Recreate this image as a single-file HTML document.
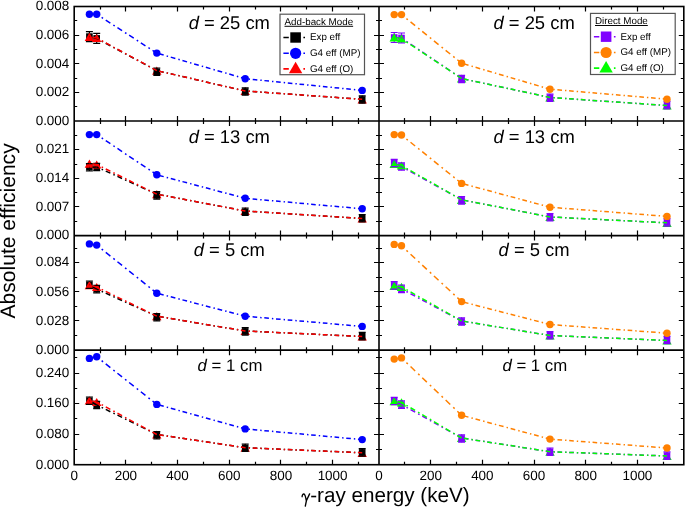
<!DOCTYPE html>
<html><head><meta charset="utf-8"><style>
html,body{margin:0;padding:0;background:#fff;}
body{width:685px;height:507px;overflow:hidden;}
#w{will-change:transform;opacity:0.999;width:685px;height:507px;}
svg{display:block;}
</style></head><body>
<div id="w">
<svg width="685" height="507" viewBox="0 0 685 507" text-rendering="geometricPrecision">
<rect width="685" height="507" fill="#fff"/>
<rect x="86.1" y="33.3" width="6.6" height="6.6" fill="#000000"/>
<path d="M89.4 31.6v10" stroke="#000000" stroke-width="1.2"/>
<path d="M89.4 32.8L94.1 41H84.7Z" fill="#ff0000"/>
<path d="M85.9 31.6h7M85.9 41.6h7" stroke="#000000" stroke-width="1.2" fill="none"/>
<rect x="93.4" y="35.1" width="6.6" height="6.6" fill="#000000"/>
<path d="M96.7 33.4v10" stroke="#000000" stroke-width="1.2"/>
<path d="M96.7 33.9L101.4 42.1H92Z" fill="#ff0000"/>
<path d="M93.2 33.4h7M93.2 43.4h7" stroke="#000000" stroke-width="1.2" fill="none"/>
<path d="M156.8 66.5L161.5 74.7H152.1Z" fill="#ff0000"/>
<rect x="153.5" y="68.4" width="6.6" height="6.6" fill="#000000"/>
<path d="M156.8 68v7.4" stroke="#000000" stroke-width="1.2"/>
<path d="M153.3 68h7M153.3 75.4h7" stroke="#000000" stroke-width="1.2" fill="none"/>
<path d="M245.2 86.9L249.9 95.1H240.5Z" fill="#ff0000"/>
<rect x="241.9" y="88.2" width="6.6" height="6.6" fill="#000000"/>
<path d="M245.2 87.8v7.4" stroke="#000000" stroke-width="1.2"/>
<path d="M241.7 87.8h7M241.7 95.2h7" stroke="#000000" stroke-width="1.2" fill="none"/>
<path d="M362.2 95.2L366.9 103.4H357.5Z" fill="#ff0000"/>
<rect x="358.9" y="96.2" width="6.6" height="6.6" fill="#000000"/>
<path d="M362.2 95.8v7.4" stroke="#000000" stroke-width="1.2"/>
<path d="M358.7 95.8h7M358.7 103.2h7" stroke="#000000" stroke-width="1.2" fill="none"/>
<circle cx="89.4" cy="14.3" r="3.7" fill="#0000ff"/>
<circle cx="96.7" cy="14.3" r="3.7" fill="#0000ff"/>
<circle cx="156.8" cy="53.1" r="3.7" fill="#0000ff"/>
<circle cx="245.2" cy="78.7" r="3.7" fill="#0000ff"/>
<circle cx="362.2" cy="90.4" r="3.7" fill="#0000ff"/>
<path d="M96.7 38.4L89.4 36.6" fill="none" stroke="#000000" stroke-width="1.5" stroke-dasharray="4.74 2.78 1.44 3.09" stroke-dashoffset="0.36"/>
<path d="M156.8 70.6L96.7 38.4" fill="none" stroke="#000000" stroke-width="1.5" stroke-dasharray="5.22 3.06 1.59 3.4" stroke-dashoffset="0.4"/>
<path d="M245.2 91L156.8 70.6" fill="none" stroke="#000000" stroke-width="1.5" stroke-dasharray="4.72 2.77 1.44 3.08" stroke-dashoffset="0.36"/>
<path d="M362.2 99.3L245.2 91" fill="none" stroke="#000000" stroke-width="1.5" stroke-dasharray="4.61 2.71 1.4 3.01" stroke-dashoffset="0.35"/>
<path d="M96.7 14.3L89.4 14.3" fill="none" stroke="#0000ff" stroke-width="1.5" stroke-dasharray="4.6 2.7 1.4 3" stroke-dashoffset="0.35"/>
<path d="M156.8 53.1L96.7 14.3" fill="none" stroke="#0000ff" stroke-width="1.5" stroke-dasharray="5.48 3.21 1.67 3.57" stroke-dashoffset="0.42"/>
<path d="M245.2 78.7L156.8 53.1" fill="none" stroke="#0000ff" stroke-width="1.5" stroke-dasharray="4.79 2.81 1.46 3.12" stroke-dashoffset="0.36"/>
<path d="M362.2 90.4L245.2 78.7" fill="none" stroke="#0000ff" stroke-width="1.5" stroke-dasharray="4.62 2.71 1.41 3.01" stroke-dashoffset="0.35"/>
<path d="M96.7 38L89.4 36.9" fill="none" stroke="#ff0000" stroke-width="1.5" stroke-dasharray="4.65 2.73 1.42 3.03" stroke-dashoffset="0.35"/>
<path d="M156.8 70.6L96.7 38" fill="none" stroke="#ff0000" stroke-width="1.5" stroke-dasharray="5.23 3.07 1.59 3.41" stroke-dashoffset="0.4"/>
<path d="M245.2 91L156.8 70.6" fill="none" stroke="#ff0000" stroke-width="1.5" stroke-dasharray="4.72 2.77 1.44 3.08" stroke-dashoffset="0.36"/>
<path d="M362.2 99.3L245.2 91" fill="none" stroke="#ff0000" stroke-width="1.5" stroke-dasharray="4.61 2.71 1.4 3.01" stroke-dashoffset="0.35"/>
<rect x="390.9" y="34.2" width="6.6" height="6.6" fill="#8000ff"/>
<path d="M394.2 32.5v10" stroke="#8000ff" stroke-width="1.2"/>
<path d="M394.2 33.2L398.9 41.4H389.5Z" fill="#00ff00"/>
<path d="M390.7 32.5h7M390.7 42.5h7" stroke="#8000ff" stroke-width="1.2" fill="none"/>
<rect x="398.2" y="34.7" width="6.6" height="6.6" fill="#8000ff"/>
<path d="M401.5 33v10" stroke="#8000ff" stroke-width="1.2"/>
<path d="M401.5 34.5L406.2 42.7H396.8Z" fill="#00ff00"/>
<path d="M398 33h7M398 43h7" stroke="#8000ff" stroke-width="1.2" fill="none"/>
<path d="M461.6 74.4L466.3 82.6H456.9Z" fill="#00ff00"/>
<rect x="458.3" y="75.7" width="6.6" height="6.6" fill="#8000ff"/>
<path d="M461.6 75.3v7.4" stroke="#8000ff" stroke-width="1.2"/>
<path d="M458.1 75.3h7M458.1 82.7h7" stroke="#8000ff" stroke-width="1.2" fill="none"/>
<path d="M550 93.4L554.7 101.6H545.3Z" fill="#00ff00"/>
<rect x="546.7" y="94.5" width="6.6" height="6.6" fill="#8000ff"/>
<path d="M550 94.1v7.4" stroke="#8000ff" stroke-width="1.2"/>
<path d="M546.5 94.1h7M546.5 101.5h7" stroke="#8000ff" stroke-width="1.2" fill="none"/>
<path d="M667 101.4L671.7 109.6H662.3Z" fill="#00ff00"/>
<rect x="663.7" y="101.8" width="6.6" height="6.6" fill="#8000ff"/>
<path d="M667 101.4v7.4" stroke="#8000ff" stroke-width="1.2"/>
<path d="M663.5 101.4h7M663.5 108.8h7" stroke="#8000ff" stroke-width="1.2" fill="none"/>
<circle cx="394.2" cy="14.6" r="3.7" fill="#ff8000"/>
<circle cx="401.5" cy="14.6" r="3.7" fill="#ff8000"/>
<circle cx="461.6" cy="63.2" r="3.7" fill="#ff8000"/>
<circle cx="550" cy="89.2" r="3.7" fill="#ff8000"/>
<circle cx="667" cy="99.2" r="3.7" fill="#ff8000"/>
<path d="M401.5 38L394.2 37.5" fill="none" stroke="#8000ff" stroke-width="1.5" stroke-dasharray="4.61 2.71 1.4 3.01" stroke-dashoffset="0.35"/>
<path d="M461.6 78.5L401.5 38" fill="none" stroke="#8000ff" stroke-width="1.5" stroke-dasharray="5.55 3.26 1.69 3.62" stroke-dashoffset="0.42"/>
<path d="M550 97.5L461.6 78.5" fill="none" stroke="#8000ff" stroke-width="1.5" stroke-dasharray="4.71 2.76 1.43 3.07" stroke-dashoffset="0.36"/>
<path d="M667 105.5L550 97.5" fill="none" stroke="#8000ff" stroke-width="1.5" stroke-dasharray="4.61 2.71 1.4 3.01" stroke-dashoffset="0.35"/>
<path d="M401.5 14.6L394.2 14.6" fill="none" stroke="#ff8000" stroke-width="1.5" stroke-dasharray="4.6 2.7 1.4 3" stroke-dashoffset="0.35"/>
<path d="M461.6 63.2L401.5 14.6" fill="none" stroke="#ff8000" stroke-width="1.5" stroke-dasharray="5.92 3.47 1.8 3.86" stroke-dashoffset="0.45"/>
<path d="M550 89.2L461.6 63.2" fill="none" stroke="#ff8000" stroke-width="1.5" stroke-dasharray="4.79 2.81 1.46 3.13" stroke-dashoffset="0.36"/>
<path d="M667 99.2L550 89.2" fill="none" stroke="#ff8000" stroke-width="1.5" stroke-dasharray="4.62 2.71 1.41 3.01" stroke-dashoffset="0.35"/>
<path d="M401.5 38.6L394.2 37.3" fill="none" stroke="#00ff00" stroke-width="1.5" stroke-dasharray="4.67 2.74 1.42 3.05" stroke-dashoffset="0.36"/>
<path d="M461.6 78.5L401.5 38.6" fill="none" stroke="#00ff00" stroke-width="1.5" stroke-dasharray="5.52 3.24 1.68 3.6" stroke-dashoffset="0.42"/>
<path d="M550 97.5L461.6 78.5" fill="none" stroke="#00ff00" stroke-width="1.5" stroke-dasharray="4.71 2.76 1.43 3.07" stroke-dashoffset="0.36"/>
<path d="M667 105.5L550 97.5" fill="none" stroke="#00ff00" stroke-width="1.5" stroke-dasharray="4.61 2.71 1.4 3.01" stroke-dashoffset="0.35"/>
<rect x="86.1" y="164" width="6.6" height="6.6" fill="#000000"/>
<path d="M89.4 163.6v7.4" stroke="#000000" stroke-width="1.2"/>
<path d="M89.4 159.6L94.1 167.8H84.7Z" fill="#ff0000"/>
<path d="M85.9 163.6h7M85.9 171h7" stroke="#000000" stroke-width="1.2" fill="none"/>
<rect x="93.4" y="163.7" width="6.6" height="6.6" fill="#000000"/>
<path d="M96.7 163.3v7.4" stroke="#000000" stroke-width="1.2"/>
<path d="M96.7 160.4L101.4 168.6H92Z" fill="#ff0000"/>
<path d="M93.2 163.3h7M93.2 170.7h7" stroke="#000000" stroke-width="1.2" fill="none"/>
<path d="M156.8 190.1L161.5 198.3H152.1Z" fill="#ff0000"/>
<rect x="153.5" y="192.1" width="6.6" height="6.6" fill="#000000"/>
<path d="M156.8 191.7v7.4" stroke="#000000" stroke-width="1.2"/>
<path d="M153.3 191.7h7M153.3 199.1h7" stroke="#000000" stroke-width="1.2" fill="none"/>
<path d="M245.2 206.9L249.9 215.1H240.5Z" fill="#ff0000"/>
<rect x="241.9" y="208.4" width="6.6" height="6.6" fill="#000000"/>
<path d="M245.2 208v7.4" stroke="#000000" stroke-width="1.2"/>
<path d="M241.7 208h7M241.7 215.4h7" stroke="#000000" stroke-width="1.2" fill="none"/>
<path d="M362.2 214.4L366.9 222.6H357.5Z" fill="#ff0000"/>
<rect x="358.9" y="214.9" width="6.6" height="6.6" fill="#000000"/>
<path d="M362.2 214.5v7.4" stroke="#000000" stroke-width="1.2"/>
<path d="M358.7 214.5h7M358.7 221.9h7" stroke="#000000" stroke-width="1.2" fill="none"/>
<circle cx="89.4" cy="134.6" r="3.7" fill="#0000ff"/>
<circle cx="96.7" cy="134.6" r="3.7" fill="#0000ff"/>
<circle cx="156.8" cy="174.8" r="3.7" fill="#0000ff"/>
<circle cx="245.2" cy="198.3" r="3.7" fill="#0000ff"/>
<circle cx="362.2" cy="208.8" r="3.7" fill="#0000ff"/>
<path d="M96.7 167L89.4 167.3" fill="none" stroke="#000000" stroke-width="1.5" stroke-dasharray="4.6 2.7 1.4 3" stroke-dashoffset="0.35"/>
<path d="M156.8 194.2L96.7 167" fill="none" stroke="#000000" stroke-width="1.5" stroke-dasharray="5.05 2.96 1.54 3.29" stroke-dashoffset="0.38"/>
<path d="M245.2 211L156.8 194.2" fill="none" stroke="#000000" stroke-width="1.5" stroke-dasharray="4.68 2.75 1.43 3.05" stroke-dashoffset="0.36"/>
<path d="M362.2 218.5L245.2 211" fill="none" stroke="#000000" stroke-width="1.5" stroke-dasharray="4.61 2.71 1.4 3.01" stroke-dashoffset="0.35"/>
<path d="M96.7 134.6L89.4 134.6" fill="none" stroke="#0000ff" stroke-width="1.5" stroke-dasharray="4.6 2.7 1.4 3" stroke-dashoffset="0.35"/>
<path d="M156.8 174.8L96.7 134.6" fill="none" stroke="#0000ff" stroke-width="1.5" stroke-dasharray="5.53 3.25 1.68 3.61" stroke-dashoffset="0.42"/>
<path d="M245.2 198.3L156.8 174.8" fill="none" stroke="#0000ff" stroke-width="1.5" stroke-dasharray="4.76 2.79 1.45 3.1" stroke-dashoffset="0.36"/>
<path d="M362.2 208.8L245.2 198.3" fill="none" stroke="#0000ff" stroke-width="1.5" stroke-dasharray="4.62 2.71 1.41 3.01" stroke-dashoffset="0.35"/>
<path d="M96.7 164.5L89.4 163.7" fill="none" stroke="#ff0000" stroke-width="1.5" stroke-dasharray="4.63 2.72 1.41 3.02" stroke-dashoffset="0.35"/>
<path d="M156.8 194.2L96.7 164.5" fill="none" stroke="#ff0000" stroke-width="1.5" stroke-dasharray="5.13 3.01 1.56 3.35" stroke-dashoffset="0.39"/>
<path d="M245.2 211L156.8 194.2" fill="none" stroke="#ff0000" stroke-width="1.5" stroke-dasharray="4.68 2.75 1.43 3.05" stroke-dashoffset="0.36"/>
<path d="M362.2 218.5L245.2 211" fill="none" stroke="#ff0000" stroke-width="1.5" stroke-dasharray="4.61 2.71 1.4 3.01" stroke-dashoffset="0.35"/>
<rect x="390.9" y="159.7" width="6.6" height="6.6" fill="#8000ff"/>
<path d="M394.2 159.3v7.4" stroke="#8000ff" stroke-width="1.2"/>
<path d="M394.2 159.9L398.9 168.1H389.5Z" fill="#00ff00"/>
<path d="M390.7 159.3h7M390.7 166.7h7" stroke="#8000ff" stroke-width="1.2" fill="none"/>
<rect x="398.2" y="163.2" width="6.6" height="6.6" fill="#8000ff"/>
<path d="M401.5 162.8v7.4" stroke="#8000ff" stroke-width="1.2"/>
<path d="M401.5 161.4L406.2 169.6H396.8Z" fill="#00ff00"/>
<path d="M398 162.8h7M398 170.2h7" stroke="#8000ff" stroke-width="1.2" fill="none"/>
<path d="M461.6 195.7L466.3 203.9H456.9Z" fill="#00ff00"/>
<rect x="458.3" y="197.1" width="6.6" height="6.6" fill="#8000ff"/>
<path d="M461.6 196.7v7.4" stroke="#8000ff" stroke-width="1.2"/>
<path d="M458.1 196.7h7M458.1 204.1h7" stroke="#8000ff" stroke-width="1.2" fill="none"/>
<path d="M550 212.9L554.7 221.1H545.3Z" fill="#00ff00"/>
<rect x="546.7" y="213.9" width="6.6" height="6.6" fill="#8000ff"/>
<path d="M550 213.5v7.4" stroke="#8000ff" stroke-width="1.2"/>
<path d="M546.5 213.5h7M546.5 220.9h7" stroke="#8000ff" stroke-width="1.2" fill="none"/>
<path d="M667 218.7L671.7 226.9H662.3Z" fill="#00ff00"/>
<rect x="663.7" y="219.1" width="6.6" height="6.6" fill="#8000ff"/>
<path d="M667 218.7v7.4" stroke="#8000ff" stroke-width="1.2"/>
<path d="M663.5 218.7h7M663.5 226.1h7" stroke="#8000ff" stroke-width="1.2" fill="none"/>
<circle cx="394.2" cy="134.6" r="3.7" fill="#ff8000"/>
<circle cx="401.5" cy="135" r="3.7" fill="#ff8000"/>
<circle cx="461.6" cy="183.4" r="3.7" fill="#ff8000"/>
<circle cx="550" cy="207.2" r="3.7" fill="#ff8000"/>
<circle cx="667" cy="216.4" r="3.7" fill="#ff8000"/>
<path d="M401.5 166.5L394.2 163" fill="none" stroke="#8000ff" stroke-width="1.5" stroke-dasharray="5.1 2.99 1.55 3.33" stroke-dashoffset="0.39"/>
<path d="M461.6 199.8L401.5 166.5" fill="none" stroke="#8000ff" stroke-width="1.5" stroke-dasharray="5.26 3.09 1.6 3.43" stroke-dashoffset="0.4"/>
<path d="M550 217L461.6 199.8" fill="none" stroke="#8000ff" stroke-width="1.5" stroke-dasharray="4.69 2.75 1.43 3.06" stroke-dashoffset="0.36"/>
<path d="M667 222.8L550 217" fill="none" stroke="#8000ff" stroke-width="1.5" stroke-dasharray="4.61 2.7 1.4 3" stroke-dashoffset="0.35"/>
<path d="M401.5 135L394.2 134.6" fill="none" stroke="#ff8000" stroke-width="1.5" stroke-dasharray="4.61 2.7 1.4 3" stroke-dashoffset="0.35"/>
<path d="M461.6 183.4L401.5 135" fill="none" stroke="#ff8000" stroke-width="1.5" stroke-dasharray="5.91 3.47 1.8 3.85" stroke-dashoffset="0.45"/>
<path d="M550 207.2L461.6 183.4" fill="none" stroke="#ff8000" stroke-width="1.5" stroke-dasharray="4.76 2.8 1.45 3.11" stroke-dashoffset="0.36"/>
<path d="M667 216.4L550 207.2" fill="none" stroke="#ff8000" stroke-width="1.5" stroke-dasharray="4.61 2.71 1.4 3.01" stroke-dashoffset="0.35"/>
<path d="M401.5 165.5L394.2 164" fill="none" stroke="#00ff00" stroke-width="1.5" stroke-dasharray="4.7 2.76 1.43 3.06" stroke-dashoffset="0.36"/>
<path d="M461.6 199.8L401.5 165.5" fill="none" stroke="#00ff00" stroke-width="1.5" stroke-dasharray="5.3 3.11 1.61 3.45" stroke-dashoffset="0.4"/>
<path d="M550 217L461.6 199.8" fill="none" stroke="#00ff00" stroke-width="1.5" stroke-dasharray="4.69 2.75 1.43 3.06" stroke-dashoffset="0.36"/>
<path d="M667 222.8L550 217" fill="none" stroke="#00ff00" stroke-width="1.5" stroke-dasharray="4.61 2.7 1.4 3" stroke-dashoffset="0.35"/>
<rect x="86.1" y="281.4" width="6.6" height="6.6" fill="#000000"/>
<path d="M89.4 281v7.4" stroke="#000000" stroke-width="1.2"/>
<path d="M89.4 281L94.1 289.2H84.7Z" fill="#ff0000"/>
<path d="M85.9 281h7M85.9 288.4h7" stroke="#000000" stroke-width="1.2" fill="none"/>
<rect x="93.4" y="285.8" width="6.6" height="6.6" fill="#000000"/>
<path d="M96.7 285.4v7.4" stroke="#000000" stroke-width="1.2"/>
<path d="M96.7 282.9L101.4 291.1H92Z" fill="#ff0000"/>
<path d="M93.2 285.4h7M93.2 292.8h7" stroke="#000000" stroke-width="1.2" fill="none"/>
<path d="M156.8 312.1L161.5 320.3H152.1Z" fill="#ff0000"/>
<rect x="153.5" y="313.9" width="6.6" height="6.6" fill="#000000"/>
<path d="M156.8 313.5v7.4" stroke="#000000" stroke-width="1.2"/>
<path d="M153.3 313.5h7M153.3 320.9h7" stroke="#000000" stroke-width="1.2" fill="none"/>
<path d="M245.2 326.9L249.9 335.1H240.5Z" fill="#ff0000"/>
<rect x="241.9" y="328.1" width="6.6" height="6.6" fill="#000000"/>
<path d="M245.2 327.7v7.4" stroke="#000000" stroke-width="1.2"/>
<path d="M241.7 327.7h7M241.7 335.1h7" stroke="#000000" stroke-width="1.2" fill="none"/>
<path d="M362.2 332.4L366.9 340.6H357.5Z" fill="#ff0000"/>
<rect x="358.9" y="332.8" width="6.6" height="6.6" fill="#000000"/>
<path d="M362.2 332.4v7.4" stroke="#000000" stroke-width="1.2"/>
<path d="M358.7 332.4h7M358.7 339.8h7" stroke="#000000" stroke-width="1.2" fill="none"/>
<circle cx="89.4" cy="243.9" r="3.7" fill="#0000ff"/>
<circle cx="96.7" cy="245.1" r="3.7" fill="#0000ff"/>
<circle cx="156.8" cy="293.2" r="3.7" fill="#0000ff"/>
<circle cx="245.2" cy="316.2" r="3.7" fill="#0000ff"/>
<circle cx="362.2" cy="326.4" r="3.7" fill="#0000ff"/>
<path d="M96.7 289.1L89.4 284.7" fill="none" stroke="#000000" stroke-width="1.5" stroke-dasharray="5.37 3.15 1.63 3.5" stroke-dashoffset="0.41"/>
<path d="M156.8 316.2L96.7 289.1" fill="none" stroke="#000000" stroke-width="1.5" stroke-dasharray="5.05 2.96 1.54 3.29" stroke-dashoffset="0.38"/>
<path d="M245.2 331L156.8 316.2" fill="none" stroke="#000000" stroke-width="1.5" stroke-dasharray="4.66 2.74 1.42 3.04" stroke-dashoffset="0.35"/>
<path d="M362.2 336.5L245.2 331" fill="none" stroke="#000000" stroke-width="1.5" stroke-dasharray="4.61 2.7 1.4 3" stroke-dashoffset="0.35"/>
<path d="M96.7 245.1L89.4 243.9" fill="none" stroke="#0000ff" stroke-width="1.5" stroke-dasharray="4.66 2.74 1.42 3.04" stroke-dashoffset="0.35"/>
<path d="M156.8 293.2L96.7 245.1" fill="none" stroke="#0000ff" stroke-width="1.5" stroke-dasharray="5.89 3.46 1.79 3.84" stroke-dashoffset="0.45"/>
<path d="M245.2 316.2L156.8 293.2" fill="none" stroke="#0000ff" stroke-width="1.5" stroke-dasharray="4.75 2.79 1.45 3.1" stroke-dashoffset="0.36"/>
<path d="M362.2 326.4L245.2 316.2" fill="none" stroke="#0000ff" stroke-width="1.5" stroke-dasharray="4.62 2.71 1.41 3.01" stroke-dashoffset="0.35"/>
<path d="M96.7 287L89.4 285.1" fill="none" stroke="#ff0000" stroke-width="1.5" stroke-dasharray="4.75 2.79 1.45 3.1" stroke-dashoffset="0.36"/>
<path d="M156.8 316.2L96.7 287" fill="none" stroke="#ff0000" stroke-width="1.5" stroke-dasharray="5.11 3 1.56 3.34" stroke-dashoffset="0.39"/>
<path d="M245.2 331L156.8 316.2" fill="none" stroke="#ff0000" stroke-width="1.5" stroke-dasharray="4.66 2.74 1.42 3.04" stroke-dashoffset="0.35"/>
<path d="M362.2 336.5L245.2 331" fill="none" stroke="#ff0000" stroke-width="1.5" stroke-dasharray="4.61 2.7 1.4 3" stroke-dashoffset="0.35"/>
<rect x="390.9" y="282.1" width="6.6" height="6.6" fill="#8000ff"/>
<path d="M394.2 281.7v7.4" stroke="#8000ff" stroke-width="1.2"/>
<path d="M394.2 281.8L398.9 290H389.5Z" fill="#00ff00"/>
<path d="M390.7 281.7h7M390.7 289.1h7" stroke="#8000ff" stroke-width="1.2" fill="none"/>
<rect x="398.2" y="285.6" width="6.6" height="6.6" fill="#8000ff"/>
<path d="M401.5 285.2v7.4" stroke="#8000ff" stroke-width="1.2"/>
<path d="M401.5 282.7L406.2 290.9H396.8Z" fill="#00ff00"/>
<path d="M398 285.2h7M398 292.6h7" stroke="#8000ff" stroke-width="1.2" fill="none"/>
<path d="M461.6 316.9L466.3 325.1H456.9Z" fill="#00ff00"/>
<rect x="458.3" y="318.2" width="6.6" height="6.6" fill="#8000ff"/>
<path d="M461.6 317.8v7.4" stroke="#8000ff" stroke-width="1.2"/>
<path d="M458.1 317.8h7M458.1 325.2h7" stroke="#8000ff" stroke-width="1.2" fill="none"/>
<path d="M550 331.4L554.7 339.6H545.3Z" fill="#00ff00"/>
<rect x="546.7" y="332" width="6.6" height="6.6" fill="#8000ff"/>
<path d="M550 331.6v7.4" stroke="#8000ff" stroke-width="1.2"/>
<path d="M546.5 331.6h7M546.5 339h7" stroke="#8000ff" stroke-width="1.2" fill="none"/>
<path d="M667 336.4L671.7 344.6H662.3Z" fill="#00ff00"/>
<rect x="663.7" y="336.7" width="6.6" height="6.6" fill="#8000ff"/>
<path d="M667 336.3v7.4" stroke="#8000ff" stroke-width="1.2"/>
<path d="M663.5 336.3h7M663.5 343.7h7" stroke="#8000ff" stroke-width="1.2" fill="none"/>
<circle cx="394.2" cy="244.4" r="3.7" fill="#ff8000"/>
<circle cx="401.5" cy="245.8" r="3.7" fill="#ff8000"/>
<circle cx="461.6" cy="301.6" r="3.7" fill="#ff8000"/>
<circle cx="550" cy="324.5" r="3.7" fill="#ff8000"/>
<circle cx="667" cy="333.2" r="3.7" fill="#ff8000"/>
<path d="M401.5 288.9L394.2 285.4" fill="none" stroke="#8000ff" stroke-width="1.5" stroke-dasharray="5.1 2.99 1.55 3.33" stroke-dashoffset="0.39"/>
<path d="M461.6 321L401.5 288.9" fill="none" stroke="#8000ff" stroke-width="1.5" stroke-dasharray="5.22 3.06 1.59 3.4" stroke-dashoffset="0.4"/>
<path d="M550 335.5L461.6 321" fill="none" stroke="#8000ff" stroke-width="1.5" stroke-dasharray="4.66 2.74 1.42 3.04" stroke-dashoffset="0.35"/>
<path d="M667 340.5L550 335.5" fill="none" stroke="#8000ff" stroke-width="1.5" stroke-dasharray="4.6 2.7 1.4 3" stroke-dashoffset="0.35"/>
<path d="M401.5 245.8L394.2 244.4" fill="none" stroke="#ff8000" stroke-width="1.5" stroke-dasharray="4.68 2.75 1.43 3.05" stroke-dashoffset="0.36"/>
<path d="M461.6 301.6L401.5 245.8" fill="none" stroke="#ff8000" stroke-width="1.5" stroke-dasharray="6.28 3.68 1.91 4.09" stroke-dashoffset="0.48"/>
<path d="M550 324.5L461.6 301.6" fill="none" stroke="#ff8000" stroke-width="1.5" stroke-dasharray="4.75 2.79 1.45 3.1" stroke-dashoffset="0.36"/>
<path d="M667 333.2L550 324.5" fill="none" stroke="#ff8000" stroke-width="1.5" stroke-dasharray="4.61 2.71 1.4 3.01" stroke-dashoffset="0.35"/>
<path d="M401.5 286.8L394.2 285.9" fill="none" stroke="#00ff00" stroke-width="1.5" stroke-dasharray="4.63 2.72 1.41 3.02" stroke-dashoffset="0.35"/>
<path d="M461.6 321L401.5 286.8" fill="none" stroke="#00ff00" stroke-width="1.5" stroke-dasharray="5.29 3.11 1.61 3.45" stroke-dashoffset="0.4"/>
<path d="M550 335.5L461.6 321" fill="none" stroke="#00ff00" stroke-width="1.5" stroke-dasharray="4.66 2.74 1.42 3.04" stroke-dashoffset="0.35"/>
<path d="M667 340.5L550 335.5" fill="none" stroke="#00ff00" stroke-width="1.5" stroke-dasharray="4.6 2.7 1.4 3" stroke-dashoffset="0.35"/>
<rect x="86.1" y="397.4" width="6.6" height="6.6" fill="#000000"/>
<path d="M89.4 397v7.4" stroke="#000000" stroke-width="1.2"/>
<path d="M89.4 396.3L94.1 404.5H84.7Z" fill="#ff0000"/>
<path d="M85.9 397h7M85.9 404.4h7" stroke="#000000" stroke-width="1.2" fill="none"/>
<rect x="93.4" y="401.7" width="6.6" height="6.6" fill="#000000"/>
<path d="M96.7 401.3v7.4" stroke="#000000" stroke-width="1.2"/>
<path d="M96.7 397.9L101.4 406.1H92Z" fill="#ff0000"/>
<path d="M93.2 401.3h7M93.2 408.7h7" stroke="#000000" stroke-width="1.2" fill="none"/>
<path d="M156.8 430.4L161.5 438.6H152.1Z" fill="#ff0000"/>
<rect x="153.5" y="432" width="6.6" height="6.6" fill="#000000"/>
<path d="M156.8 431.6v7.4" stroke="#000000" stroke-width="1.2"/>
<path d="M153.3 431.6h7M153.3 439h7" stroke="#000000" stroke-width="1.2" fill="none"/>
<path d="M245.2 443.6L249.9 451.8H240.5Z" fill="#ff0000"/>
<rect x="241.9" y="444.4" width="6.6" height="6.6" fill="#000000"/>
<path d="M245.2 444v7.4" stroke="#000000" stroke-width="1.2"/>
<path d="M241.7 444h7M241.7 451.4h7" stroke="#000000" stroke-width="1.2" fill="none"/>
<path d="M362.2 448.7L366.9 456.9H357.5Z" fill="#ff0000"/>
<rect x="358.9" y="449.1" width="6.6" height="6.6" fill="#000000"/>
<path d="M362.2 448.7v7.4" stroke="#000000" stroke-width="1.2"/>
<path d="M358.7 448.7h7M358.7 456.1h7" stroke="#000000" stroke-width="1.2" fill="none"/>
<circle cx="89.4" cy="358.4" r="3.7" fill="#0000ff"/>
<circle cx="96.7" cy="356.8" r="3.7" fill="#0000ff"/>
<circle cx="156.8" cy="404.4" r="3.7" fill="#0000ff"/>
<circle cx="245.2" cy="428.9" r="3.7" fill="#0000ff"/>
<circle cx="362.2" cy="439.6" r="3.7" fill="#0000ff"/>
<path d="M96.7 405L89.4 400.7" fill="none" stroke="#000000" stroke-width="1.5" stroke-dasharray="5.34 3.13 1.62 3.48" stroke-dashoffset="0.41"/>
<path d="M156.8 434.5L96.7 405" fill="none" stroke="#000000" stroke-width="1.5" stroke-dasharray="5.12 3.01 1.56 3.34" stroke-dashoffset="0.39"/>
<path d="M245.2 447.7L156.8 434.5" fill="none" stroke="#000000" stroke-width="1.5" stroke-dasharray="4.65 2.73 1.42 3.03" stroke-dashoffset="0.35"/>
<path d="M362.2 452.8L245.2 447.7" fill="none" stroke="#000000" stroke-width="1.5" stroke-dasharray="4.6 2.7 1.4 3" stroke-dashoffset="0.35"/>
<path d="M96.7 356.8L89.4 358.4" fill="none" stroke="#0000ff" stroke-width="1.5" stroke-dasharray="4.71 2.76 1.43 3.07" stroke-dashoffset="0.36"/>
<path d="M156.8 404.4L96.7 356.8" fill="none" stroke="#0000ff" stroke-width="1.5" stroke-dasharray="5.87 3.44 1.79 3.83" stroke-dashoffset="0.45"/>
<path d="M245.2 428.9L156.8 404.4" fill="none" stroke="#0000ff" stroke-width="1.5" stroke-dasharray="4.77 2.8 1.45 3.11" stroke-dashoffset="0.36"/>
<path d="M362.2 439.6L245.2 428.9" fill="none" stroke="#0000ff" stroke-width="1.5" stroke-dasharray="4.62 2.71 1.41 3.01" stroke-dashoffset="0.35"/>
<path d="M96.7 402L89.4 400.4" fill="none" stroke="#ff0000" stroke-width="1.5" stroke-dasharray="4.71 2.76 1.43 3.07" stroke-dashoffset="0.36"/>
<path d="M156.8 434.5L96.7 402" fill="none" stroke="#ff0000" stroke-width="1.5" stroke-dasharray="5.23 3.07 1.59 3.41" stroke-dashoffset="0.4"/>
<path d="M245.2 447.7L156.8 434.5" fill="none" stroke="#ff0000" stroke-width="1.5" stroke-dasharray="4.65 2.73 1.42 3.03" stroke-dashoffset="0.35"/>
<path d="M362.2 452.8L245.2 447.7" fill="none" stroke="#ff0000" stroke-width="1.5" stroke-dasharray="4.6 2.7 1.4 3" stroke-dashoffset="0.35"/>
<rect x="390.9" y="397.7" width="6.6" height="6.6" fill="#8000ff"/>
<path d="M394.2 397.3v7.4" stroke="#8000ff" stroke-width="1.2"/>
<path d="M394.2 397.1L398.9 405.3H389.5Z" fill="#00ff00"/>
<path d="M390.7 397.3h7M390.7 404.7h7" stroke="#8000ff" stroke-width="1.2" fill="none"/>
<rect x="398.2" y="401.3" width="6.6" height="6.6" fill="#8000ff"/>
<path d="M401.5 400.9v7.4" stroke="#8000ff" stroke-width="1.2"/>
<path d="M401.5 398.3L406.2 406.5H396.8Z" fill="#00ff00"/>
<path d="M398 400.9h7M398 408.3h7" stroke="#8000ff" stroke-width="1.2" fill="none"/>
<path d="M461.6 433.9L466.3 442.1H456.9Z" fill="#00ff00"/>
<rect x="458.3" y="435.2" width="6.6" height="6.6" fill="#8000ff"/>
<path d="M461.6 434.8v7.4" stroke="#8000ff" stroke-width="1.2"/>
<path d="M458.1 434.8h7M458.1 442.2h7" stroke="#8000ff" stroke-width="1.2" fill="none"/>
<path d="M550 447.6L554.7 455.8H545.3Z" fill="#00ff00"/>
<rect x="546.7" y="448.4" width="6.6" height="6.6" fill="#8000ff"/>
<path d="M550 448v7.4" stroke="#8000ff" stroke-width="1.2"/>
<path d="M546.5 448h7M546.5 455.4h7" stroke="#8000ff" stroke-width="1.2" fill="none"/>
<path d="M667 451.9L671.7 460.1H662.3Z" fill="#00ff00"/>
<rect x="663.7" y="452.3" width="6.6" height="6.6" fill="#8000ff"/>
<path d="M667 451.9v7.4" stroke="#8000ff" stroke-width="1.2"/>
<path d="M663.5 451.9h7M663.5 459.3h7" stroke="#8000ff" stroke-width="1.2" fill="none"/>
<circle cx="394.2" cy="359.1" r="3.7" fill="#ff8000"/>
<circle cx="401.5" cy="357.9" r="3.7" fill="#ff8000"/>
<circle cx="461.6" cy="415.3" r="3.7" fill="#ff8000"/>
<circle cx="550" cy="439.1" r="3.7" fill="#ff8000"/>
<circle cx="667" cy="448" r="3.7" fill="#ff8000"/>
<path d="M401.5 404.6L394.2 401" fill="none" stroke="#8000ff" stroke-width="1.5" stroke-dasharray="5.13 3.01 1.56 3.34" stroke-dashoffset="0.39"/>
<path d="M461.6 438L401.5 404.6" fill="none" stroke="#8000ff" stroke-width="1.5" stroke-dasharray="5.26 3.09 1.6 3.43" stroke-dashoffset="0.4"/>
<path d="M550 451.7L461.6 438" fill="none" stroke="#8000ff" stroke-width="1.5" stroke-dasharray="4.65 2.73 1.42 3.04" stroke-dashoffset="0.35"/>
<path d="M667 456L550 451.7" fill="none" stroke="#8000ff" stroke-width="1.5" stroke-dasharray="4.6 2.7 1.4 3" stroke-dashoffset="0.35"/>
<path d="M401.5 357.9L394.2 359.1" fill="none" stroke="#ff8000" stroke-width="1.5" stroke-dasharray="4.66 2.74 1.42 3.04" stroke-dashoffset="0.35"/>
<path d="M461.6 415.3L401.5 357.9" fill="none" stroke="#ff8000" stroke-width="1.5" stroke-dasharray="6.36 3.73 1.94 4.15" stroke-dashoffset="0.48"/>
<path d="M550 439.1L461.6 415.3" fill="none" stroke="#ff8000" stroke-width="1.5" stroke-dasharray="4.76 2.8 1.45 3.11" stroke-dashoffset="0.36"/>
<path d="M667 448L550 439.1" fill="none" stroke="#ff8000" stroke-width="1.5" stroke-dasharray="4.61 2.71 1.4 3.01" stroke-dashoffset="0.35"/>
<path d="M401.5 402.4L394.2 401.2" fill="none" stroke="#00ff00" stroke-width="1.5" stroke-dasharray="4.66 2.74 1.42 3.04" stroke-dashoffset="0.35"/>
<path d="M461.6 438L401.5 402.4" fill="none" stroke="#00ff00" stroke-width="1.5" stroke-dasharray="5.35 3.14 1.63 3.49" stroke-dashoffset="0.41"/>
<path d="M550 451.7L461.6 438" fill="none" stroke="#00ff00" stroke-width="1.5" stroke-dasharray="4.65 2.73 1.42 3.04" stroke-dashoffset="0.35"/>
<path d="M667 456L550 451.7" fill="none" stroke="#00ff00" stroke-width="1.5" stroke-dasharray="4.6 2.7 1.4 3" stroke-dashoffset="0.35"/>
<g stroke="#000" fill="none">
<path d="M100.5 121.05v-3M100.5 6.5v3" stroke-width="1.2"/>
<path d="M125.5 121.05v-5M125.5 6.5v5" stroke-width="1.2"/>
<path d="M151.5 121.05v-3M151.5 6.5v3" stroke-width="1.2"/>
<path d="M177.5 121.05v-5M177.5 6.5v5" stroke-width="1.2"/>
<path d="M203.5 121.05v-3M203.5 6.5v3" stroke-width="1.2"/>
<path d="M229.5 121.05v-5M229.5 6.5v5" stroke-width="1.2"/>
<path d="M255.5 121.05v-3M255.5 6.5v3" stroke-width="1.2"/>
<path d="M280.5 121.05v-5M280.5 6.5v5" stroke-width="1.2"/>
<path d="M306.5 121.05v-3M306.5 6.5v3" stroke-width="1.2"/>
<path d="M332.5 121.05v-5M332.5 6.5v5" stroke-width="1.2"/>
<path d="M358.5 121.05v-3M358.5 6.5v3" stroke-width="1.2"/>
<path d="M74.2 106.5h3M379 106.5h-3" stroke-width="1.2"/>
<path d="M74.2 92.5h5M379 92.5h-5" stroke-width="1.2"/>
<path d="M74.2 78.5h3M379 78.5h-3" stroke-width="1.2"/>
<path d="M74.2 63.5h5M379 63.5h-5" stroke-width="1.2"/>
<path d="M74.2 49.5h3M379 49.5h-3" stroke-width="1.2"/>
<path d="M74.2 35.5h5M379 35.5h-5" stroke-width="1.2"/>
<path d="M74.2 20.5h3M379 20.5h-3" stroke-width="1.2"/>
<path d="M404.5 121.05v-3M404.5 6.5v3" stroke-width="1.2"/>
<path d="M430.5 121.05v-5M430.5 6.5v5" stroke-width="1.2"/>
<path d="M456.5 121.05v-3M456.5 6.5v3" stroke-width="1.2"/>
<path d="M482.5 121.05v-5M482.5 6.5v5" stroke-width="1.2"/>
<path d="M508.5 121.05v-3M508.5 6.5v3" stroke-width="1.2"/>
<path d="M534.5 121.05v-5M534.5 6.5v5" stroke-width="1.2"/>
<path d="M559.5 121.05v-3M559.5 6.5v3" stroke-width="1.2"/>
<path d="M585.5 121.05v-5M585.5 6.5v5" stroke-width="1.2"/>
<path d="M611.5 121.05v-3M611.5 6.5v3" stroke-width="1.2"/>
<path d="M637.5 121.05v-5M637.5 6.5v5" stroke-width="1.2"/>
<path d="M663.5 121.05v-3M663.5 6.5v3" stroke-width="1.2"/>
<path d="M379 106.5h3M683.8 106.5h-3" stroke-width="1.2"/>
<path d="M379 92.5h5M683.8 92.5h-5" stroke-width="1.2"/>
<path d="M379 78.5h3M683.8 78.5h-3" stroke-width="1.2"/>
<path d="M379 63.5h5M683.8 63.5h-5" stroke-width="1.2"/>
<path d="M379 49.5h3M683.8 49.5h-3" stroke-width="1.2"/>
<path d="M379 35.5h5M683.8 35.5h-5" stroke-width="1.2"/>
<path d="M379 20.5h3M683.8 20.5h-3" stroke-width="1.2"/>
<path d="M100.5 235.6v-3M100.5 121.05v3" stroke-width="1.2"/>
<path d="M125.5 235.6v-5M125.5 121.05v5" stroke-width="1.2"/>
<path d="M151.5 235.6v-3M151.5 121.05v3" stroke-width="1.2"/>
<path d="M177.5 235.6v-5M177.5 121.05v5" stroke-width="1.2"/>
<path d="M203.5 235.6v-3M203.5 121.05v3" stroke-width="1.2"/>
<path d="M229.5 235.6v-5M229.5 121.05v5" stroke-width="1.2"/>
<path d="M255.5 235.6v-3M255.5 121.05v3" stroke-width="1.2"/>
<path d="M280.5 235.6v-5M280.5 121.05v5" stroke-width="1.2"/>
<path d="M306.5 235.6v-3M306.5 121.05v3" stroke-width="1.2"/>
<path d="M332.5 235.6v-5M332.5 121.05v5" stroke-width="1.2"/>
<path d="M358.5 235.6v-3M358.5 121.05v3" stroke-width="1.2"/>
<path d="M74.2 221.5h3M379 221.5h-3" stroke-width="1.2"/>
<path d="M74.2 206.5h5M379 206.5h-5" stroke-width="1.2"/>
<path d="M74.2 192.5h3M379 192.5h-3" stroke-width="1.2"/>
<path d="M74.2 178.5h5M379 178.5h-5" stroke-width="1.2"/>
<path d="M74.2 164.5h3M379 164.5h-3" stroke-width="1.2"/>
<path d="M74.2 149.5h5M379 149.5h-5" stroke-width="1.2"/>
<path d="M74.2 135.5h3M379 135.5h-3" stroke-width="1.2"/>
<path d="M404.5 235.6v-3M404.5 121.05v3" stroke-width="1.2"/>
<path d="M430.5 235.6v-5M430.5 121.05v5" stroke-width="1.2"/>
<path d="M456.5 235.6v-3M456.5 121.05v3" stroke-width="1.2"/>
<path d="M482.5 235.6v-5M482.5 121.05v5" stroke-width="1.2"/>
<path d="M508.5 235.6v-3M508.5 121.05v3" stroke-width="1.2"/>
<path d="M534.5 235.6v-5M534.5 121.05v5" stroke-width="1.2"/>
<path d="M559.5 235.6v-3M559.5 121.05v3" stroke-width="1.2"/>
<path d="M585.5 235.6v-5M585.5 121.05v5" stroke-width="1.2"/>
<path d="M611.5 235.6v-3M611.5 121.05v3" stroke-width="1.2"/>
<path d="M637.5 235.6v-5M637.5 121.05v5" stroke-width="1.2"/>
<path d="M663.5 235.6v-3M663.5 121.05v3" stroke-width="1.2"/>
<path d="M379 221.5h3M683.8 221.5h-3" stroke-width="1.2"/>
<path d="M379 206.5h5M683.8 206.5h-5" stroke-width="1.2"/>
<path d="M379 192.5h3M683.8 192.5h-3" stroke-width="1.2"/>
<path d="M379 178.5h5M683.8 178.5h-5" stroke-width="1.2"/>
<path d="M379 164.5h3M683.8 164.5h-3" stroke-width="1.2"/>
<path d="M379 149.5h5M683.8 149.5h-5" stroke-width="1.2"/>
<path d="M379 135.5h3M683.8 135.5h-3" stroke-width="1.2"/>
<path d="M100.5 350.15v-3M100.5 235.6v3" stroke-width="1.2"/>
<path d="M125.5 350.15v-5M125.5 235.6v5" stroke-width="1.2"/>
<path d="M151.5 350.15v-3M151.5 235.6v3" stroke-width="1.2"/>
<path d="M177.5 350.15v-5M177.5 235.6v5" stroke-width="1.2"/>
<path d="M203.5 350.15v-3M203.5 235.6v3" stroke-width="1.2"/>
<path d="M229.5 350.15v-5M229.5 235.6v5" stroke-width="1.2"/>
<path d="M255.5 350.15v-3M255.5 235.6v3" stroke-width="1.2"/>
<path d="M280.5 350.15v-5M280.5 235.6v5" stroke-width="1.2"/>
<path d="M306.5 350.15v-3M306.5 235.6v3" stroke-width="1.2"/>
<path d="M332.5 350.15v-5M332.5 235.6v5" stroke-width="1.2"/>
<path d="M358.5 350.15v-3M358.5 235.6v3" stroke-width="1.2"/>
<path d="M74.2 335.5h3M379 335.5h-3" stroke-width="1.2"/>
<path d="M74.2 320.5h5M379 320.5h-5" stroke-width="1.2"/>
<path d="M74.2 306.5h3M379 306.5h-3" stroke-width="1.2"/>
<path d="M74.2 291.5h5M379 291.5h-5" stroke-width="1.2"/>
<path d="M74.2 277.5h3M379 277.5h-3" stroke-width="1.2"/>
<path d="M74.2 262.5h5M379 262.5h-5" stroke-width="1.2"/>
<path d="M74.2 248.5h3M379 248.5h-3" stroke-width="1.2"/>
<path d="M404.5 350.15v-3M404.5 235.6v3" stroke-width="1.2"/>
<path d="M430.5 350.15v-5M430.5 235.6v5" stroke-width="1.2"/>
<path d="M456.5 350.15v-3M456.5 235.6v3" stroke-width="1.2"/>
<path d="M482.5 350.15v-5M482.5 235.6v5" stroke-width="1.2"/>
<path d="M508.5 350.15v-3M508.5 235.6v3" stroke-width="1.2"/>
<path d="M534.5 350.15v-5M534.5 235.6v5" stroke-width="1.2"/>
<path d="M559.5 350.15v-3M559.5 235.6v3" stroke-width="1.2"/>
<path d="M585.5 350.15v-5M585.5 235.6v5" stroke-width="1.2"/>
<path d="M611.5 350.15v-3M611.5 235.6v3" stroke-width="1.2"/>
<path d="M637.5 350.15v-5M637.5 235.6v5" stroke-width="1.2"/>
<path d="M663.5 350.15v-3M663.5 235.6v3" stroke-width="1.2"/>
<path d="M379 335.5h3M683.8 335.5h-3" stroke-width="1.2"/>
<path d="M379 320.5h5M683.8 320.5h-5" stroke-width="1.2"/>
<path d="M379 306.5h3M683.8 306.5h-3" stroke-width="1.2"/>
<path d="M379 291.5h5M683.8 291.5h-5" stroke-width="1.2"/>
<path d="M379 277.5h3M683.8 277.5h-3" stroke-width="1.2"/>
<path d="M379 262.5h5M683.8 262.5h-5" stroke-width="1.2"/>
<path d="M379 248.5h3M683.8 248.5h-3" stroke-width="1.2"/>
<path d="M100.5 464.7v-3M100.5 350.15v3" stroke-width="1.2"/>
<path d="M125.5 464.7v-5M125.5 350.15v5" stroke-width="1.2"/>
<path d="M151.5 464.7v-3M151.5 350.15v3" stroke-width="1.2"/>
<path d="M177.5 464.7v-5M177.5 350.15v5" stroke-width="1.2"/>
<path d="M203.5 464.7v-3M203.5 350.15v3" stroke-width="1.2"/>
<path d="M229.5 464.7v-5M229.5 350.15v5" stroke-width="1.2"/>
<path d="M255.5 464.7v-3M255.5 350.15v3" stroke-width="1.2"/>
<path d="M280.5 464.7v-5M280.5 350.15v5" stroke-width="1.2"/>
<path d="M306.5 464.7v-3M306.5 350.15v3" stroke-width="1.2"/>
<path d="M332.5 464.7v-5M332.5 350.15v5" stroke-width="1.2"/>
<path d="M358.5 464.7v-3M358.5 350.15v3" stroke-width="1.2"/>
<path d="M74.2 449.5h3M379 449.5h-3" stroke-width="1.2"/>
<path d="M74.2 434.5h5M379 434.5h-5" stroke-width="1.2"/>
<path d="M74.2 418.5h3M379 418.5h-3" stroke-width="1.2"/>
<path d="M74.2 403.5h5M379 403.5h-5" stroke-width="1.2"/>
<path d="M74.2 388.5h3M379 388.5h-3" stroke-width="1.2"/>
<path d="M74.2 373.5h5M379 373.5h-5" stroke-width="1.2"/>
<path d="M74.2 357.5h3M379 357.5h-3" stroke-width="1.2"/>
<path d="M404.5 464.7v-3M404.5 350.15v3" stroke-width="1.2"/>
<path d="M430.5 464.7v-5M430.5 350.15v5" stroke-width="1.2"/>
<path d="M456.5 464.7v-3M456.5 350.15v3" stroke-width="1.2"/>
<path d="M482.5 464.7v-5M482.5 350.15v5" stroke-width="1.2"/>
<path d="M508.5 464.7v-3M508.5 350.15v3" stroke-width="1.2"/>
<path d="M534.5 464.7v-5M534.5 350.15v5" stroke-width="1.2"/>
<path d="M559.5 464.7v-3M559.5 350.15v3" stroke-width="1.2"/>
<path d="M585.5 464.7v-5M585.5 350.15v5" stroke-width="1.2"/>
<path d="M611.5 464.7v-3M611.5 350.15v3" stroke-width="1.2"/>
<path d="M637.5 464.7v-5M637.5 350.15v5" stroke-width="1.2"/>
<path d="M663.5 464.7v-3M663.5 350.15v3" stroke-width="1.2"/>
<path d="M379 449.5h3M683.8 449.5h-3" stroke-width="1.2"/>
<path d="M379 434.5h5M683.8 434.5h-5" stroke-width="1.2"/>
<path d="M379 418.5h3M683.8 418.5h-3" stroke-width="1.2"/>
<path d="M379 403.5h5M683.8 403.5h-5" stroke-width="1.2"/>
<path d="M379 388.5h3M683.8 388.5h-3" stroke-width="1.2"/>
<path d="M379 373.5h5M683.8 373.5h-5" stroke-width="1.2"/>
<path d="M379 357.5h3M683.8 357.5h-3" stroke-width="1.2"/>
</g>
<g stroke="#000" stroke-width="1.6" fill="none">
<rect x="74.2" y="6.5" width="609.6" height="458.2"/>
<path d="M379 6.5V464.7"/>
<path d="M74.2 121.05H683.8"/>
<path d="M74.2 235.6H683.8"/>
<path d="M74.2 350.15H683.8"/>
</g>
<g font-family="Liberation Sans" font-size="13.45" text-anchor="end" fill="#000">
<text x="69.3" y="124.85">0.000</text>
<text x="69.3" y="96.21">0.002</text>
<text x="69.3" y="67.58">0.004</text>
<text x="69.3" y="38.94">0.006</text>
<text x="69.3" y="10.3">0.008</text>
<text x="69.3" y="239.4">0.000</text>
<text x="69.3" y="210.76">0.007</text>
<text x="69.3" y="182.12">0.014</text>
<text x="69.3" y="153.49">0.021</text>
<text x="69.3" y="353.95">0.000</text>
<text x="69.3" y="324.79">0.028</text>
<text x="69.3" y="295.63">0.056</text>
<text x="69.3" y="266.48">0.084</text>
<text x="69.3" y="468.5">0.000</text>
<text x="69.3" y="437.95">0.080</text>
<text x="69.3" y="407.41">0.160</text>
<text x="69.3" y="376.86">0.240</text>
</g>
<g font-family="Liberation Sans" font-size="13.45" text-anchor="middle" fill="#000">
<text x="74.2" y="480.4">0</text>
<text x="125.88" y="480.4">200</text>
<text x="177.56" y="480.4">400</text>
<text x="229.24" y="480.4">600</text>
<text x="280.92" y="480.4">800</text>
<text x="332.6" y="480.4">1000</text>
<text x="379" y="480.4">0</text>
<text x="430.68" y="480.4">200</text>
<text x="482.36" y="480.4">400</text>
<text x="534.04" y="480.4">600</text>
<text x="585.72" y="480.4">800</text>
<text x="637.4" y="480.4">1000</text>
</g>
<text x="229.3" y="28.9" font-family="Liberation Sans" font-size="18.4" text-anchor="middle"><tspan font-style="italic">d</tspan> = 25 cm</text>
<text x="534.1" y="28.9" font-family="Liberation Sans" font-size="18.4" text-anchor="middle"><tspan font-style="italic">d</tspan> = 25 cm</text>
<text x="229.3" y="142.6" font-family="Liberation Sans" font-size="18.4" text-anchor="middle"><tspan font-style="italic">d</tspan> = 13 cm</text>
<text x="534.1" y="142.6" font-family="Liberation Sans" font-size="18.4" text-anchor="middle"><tspan font-style="italic">d</tspan> = 13 cm</text>
<text x="229.3" y="256.4" font-family="Liberation Sans" font-size="18.4" text-anchor="middle"><tspan font-style="italic">d</tspan> = 5 cm</text>
<text x="534.1" y="256.4" font-family="Liberation Sans" font-size="18.4" text-anchor="middle"><tspan font-style="italic">d</tspan> = 5 cm</text>
<text x="230" y="370.7" font-family="Liberation Sans" font-size="16.8" text-anchor="middle"><tspan font-style="italic">d</tspan> = 1 cm</text>
<text x="534.8" y="370.7" font-family="Liberation Sans" font-size="16.8" text-anchor="middle"><tspan font-style="italic">d</tspan> = 1 cm</text>
<rect x="280" y="14.2" width="84.5" height="60.5" fill="#fff" stroke="#555" stroke-width="1.2"/>
<text x="284.5" y="24.8" font-family="Liberation Sans" font-size="9.8" text-decoration="underline">Add-back Mode</text>
<path d="M283.4 37.5h5.4M303.4 37.5h1.6" stroke="#000000" stroke-width="1.6"/>
<rect x="290.3" y="32.3" width="10.6" height="10.4" fill="#000000"/>
<text x="310" y="40.4" font-family="Liberation Sans" font-size="9.8">Exp eff</text>
<path d="M283.4 53.3h5.4M303.4 53.3h1.6" stroke="#0000ff" stroke-width="1.6"/>
<circle cx="295.6" cy="53.3" r="5.6" fill="#0000ff"/>
<text x="310" y="56.2" font-family="Liberation Sans" font-size="9.8">G4 eff (MP)</text>
<path d="M283.4 68.9h5.4M303.4 68.9h1.6" stroke="#ff0000" stroke-width="1.6"/>
<path d="M295.6 61.7L302.3 73.3H288.9Z" fill="#ff0000"/>
<text x="310" y="71.8" font-family="Liberation Sans" font-size="9.8">G4 eff (O)</text>
<rect x="590.5" y="13.4" width="84.7" height="61.1" fill="#fff" stroke="#555" stroke-width="1.2"/>
<text x="595" y="24" font-family="Liberation Sans" font-size="9.8" text-decoration="underline">Direct Mode</text>
<path d="M593.9 36.7h5.4M613.9 36.7h1.6" stroke="#8000ff" stroke-width="1.6"/>
<rect x="600.8" y="31.5" width="10.6" height="10.4" fill="#8000ff"/>
<text x="620.5" y="39.6" font-family="Liberation Sans" font-size="9.8">Exp eff</text>
<path d="M593.9 52.5h5.4M613.9 52.5h1.6" stroke="#ff8000" stroke-width="1.6"/>
<circle cx="606.1" cy="52.5" r="5.6" fill="#ff8000"/>
<text x="620.5" y="55.4" font-family="Liberation Sans" font-size="9.8">G4 eff (MP)</text>
<path d="M593.9 68.1h5.4M613.9 68.1h1.6" stroke="#00ff00" stroke-width="1.6"/>
<path d="M606.1 60.9L612.8 72.5H599.4Z" fill="#00ff00"/>
<text x="620.5" y="71" font-family="Liberation Sans" font-size="9.8">G4 eff (O)</text>
<text transform="translate(14.9 230.9) rotate(-90)" font-family="Liberation Sans" font-size="21.05" text-anchor="middle">Absolute efficiency</text>
<path d="M302.1 496.7C302.2 494.9 303.0 493.9 303.9 494.0C305.0 494.2 305.6 496.5 306.3 500.6M309.6 493.9L306.4 500.8L305.3 506.1" fill="none" stroke="#000" stroke-width="1.35" stroke-linecap="round"/>
<text x="310.2" y="501.9" font-family="Liberation Sans" font-size="20.65">-ray energy (keV)</text>
</svg>
</div>
</body></html>
